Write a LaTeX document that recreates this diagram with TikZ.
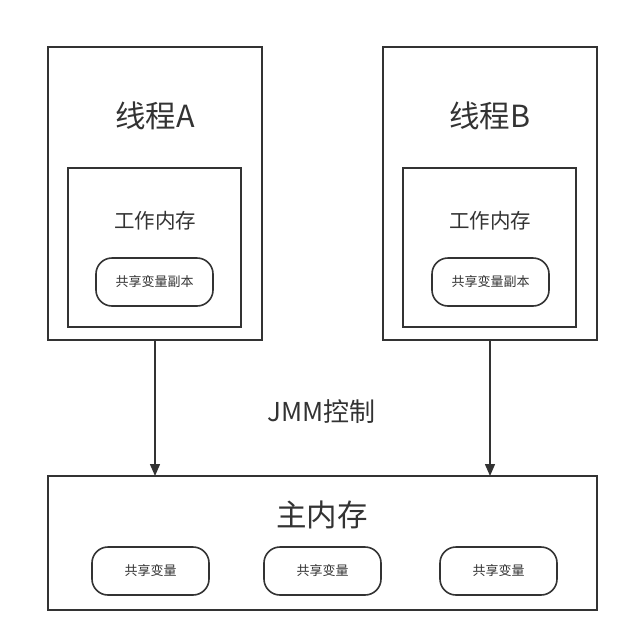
\documentclass[tikz,border=0pt]{standalone}
\usepackage{fontspec}
\setmainfont{Noto Sans CJK SC}
\usetikzlibrary{arrows.meta}
\definecolor{ln}{HTML}{333333}
\tikzset{
  box/.style={draw=ln, line width=2pt, inner sep=0pt, outer sep=0pt},
  pill/.style={draw=ln, line width=1.6pt, rounded corners=16pt, inner sep=0pt, outer sep=0pt,
    minimum width=117pt, minimum height=48pt, text=ln, font=\fontsize{13}{15}\selectfont},
  arr/.style={draw=ln, line width=1.5pt, -{Triangle[length=12pt,width=10pt]}},
  big/.style={text=ln, font=\fontsize{30.5}{32}\selectfont},
  mid/.style={text=ln, font=\fontsize{20.5}{22}\selectfont},
}
\begin{document}
\begin{tikzpicture}[x=1pt,y=-1pt]
\useasboundingbox (0,0) rectangle (629,643);
% thread A
\node[box, minimum width=214pt, minimum height=293pt] (TA) at (155,193.5) {};
\node[big] (la) at (155,116) {线程A};
\node[box, minimum width=173pt, minimum height=159pt] (WA) at (154.5,247.5) {};
\node[mid] (wa) at (155,221) {工作内存};
\node[pill] (ca) at (154.5,282) {共享变量副本};
% thread B
\node[box, minimum width=214pt, minimum height=293pt] (TB) at (490,193.5) {};
\node[big] (lb) at (490,116) {线程B};
\node[box, minimum width=173pt, minimum height=159pt] (WB) at (489.5,247.5) {};
\node[mid] (wb) at (490,221) {工作内存};
\node[pill] (cb) at (490.5,282) {共享变量副本};
% main memory
\node[box, minimum width=549pt, minimum height=134pt] (M) at (322.5,543) {};
\node[big] (lm) at (322,515) {主内存};
\node[pill] (v1) at (150.5,571) {共享变量};
\node[pill] (v2) at (322.5,571) {共享变量};
\node[pill] (v3) at (498.5,571) {共享变量};
% arrows
\draw[arr] (TA.south) -- (TA.south |- M.north);
\draw[arr] (TB.south) -- (TB.south |- M.north);
\node[text=ln, font=\fontsize{26}{28}\selectfont] (jmm) at (321.5,412) {JMM控制};
\end{tikzpicture}
\end{document}
